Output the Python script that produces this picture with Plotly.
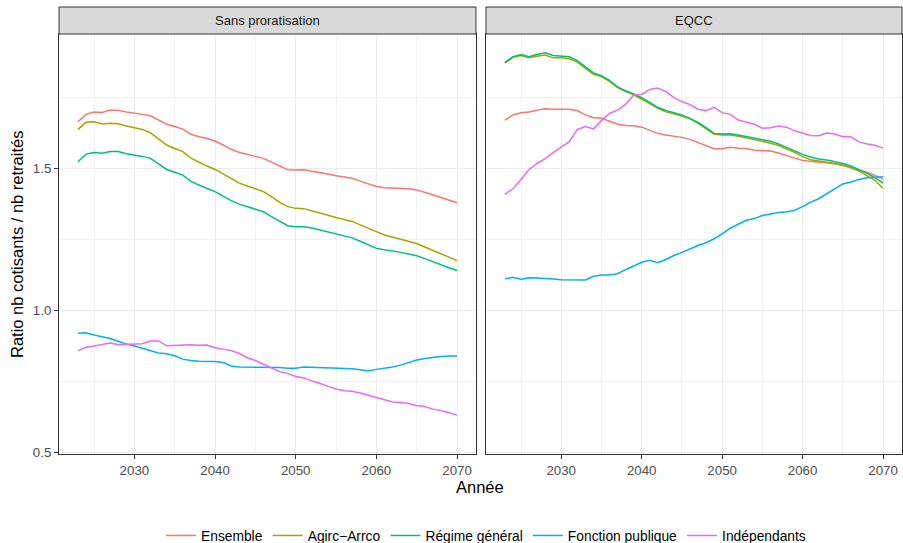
import plotly.graph_objects as go

years = list(range(2023, 2071))

series_names = ["Ensemble", "Agirc\u2212Arrco", "Régime général", "Fonction publique", "Indépendants"]
colors = ["#F8766D", "#A3A500", "#00BF7D", "#00B0F6", "#E76BF3"]

# Panel 1 : Sans proratisation
sp_ensemble = [1.663, 1.689, 1.697, 1.696, 1.704, 1.703, 1.697, 1.694, 1.689, 1.684,
               1.669, 1.654, 1.646, 1.637, 1.619, 1.610, 1.604, 1.595, 1.581, 1.566,
               1.555, 1.547, 1.541, 1.534, 1.520, 1.506, 1.494, 1.493, 1.494, 1.489,
               1.485, 1.479, 1.473, 1.468, 1.464, 1.454, 1.445, 1.435, 1.431, 1.430,
               1.428, 1.427, 1.423, 1.415, 1.406, 1.396, 1.387, 1.378]
sp_agirc = [1.636, 1.661, 1.663, 1.655, 1.658, 1.656, 1.648, 1.643, 1.636, 1.624,
            1.604, 1.581, 1.569, 1.558, 1.535, 1.520, 1.507, 1.495, 1.479, 1.461,
            1.447, 1.437, 1.428, 1.417, 1.399, 1.379, 1.364, 1.358, 1.357, 1.350,
            1.343, 1.334, 1.326, 1.319, 1.312, 1.300, 1.289, 1.276, 1.264, 1.257,
            1.250, 1.243, 1.234, 1.222, 1.210, 1.197, 1.185, 1.174]
sp_rg = [1.522, 1.549, 1.555, 1.552, 1.558, 1.558, 1.550, 1.546, 1.541, 1.534,
         1.514, 1.495, 1.485, 1.475, 1.453, 1.440, 1.428, 1.417, 1.401, 1.385,
         1.373, 1.364, 1.356, 1.346, 1.329, 1.312, 1.297, 1.293, 1.293, 1.289,
         1.282, 1.273, 1.268, 1.261, 1.254, 1.242, 1.229, 1.217, 1.212, 1.208,
         1.203, 1.197, 1.191, 1.181, 1.170, 1.158, 1.149, 1.139]
sp_fp = [0.918, 0.920, 0.912, 0.907, 0.900, 0.890, 0.880, 0.873, 0.865, 0.858,
         0.849, 0.846, 0.839, 0.827, 0.822, 0.820, 0.819, 0.819, 0.815, 0.803,
         0.799, 0.799, 0.799, 0.800, 0.800, 0.798, 0.795, 0.795, 0.799, 0.798,
         0.797, 0.797, 0.797, 0.795, 0.793, 0.790, 0.785, 0.791, 0.795, 0.799,
         0.806, 0.815, 0.824, 0.829, 0.833, 0.836, 0.838, 0.838]
sp_indep = [0.856, 0.869, 0.873, 0.878, 0.884, 0.878, 0.879, 0.881, 0.881, 0.891,
            0.891, 0.874, 0.876, 0.877, 0.878, 0.876, 0.877, 0.867, 0.861, 0.857,
            0.847, 0.832, 0.822, 0.810, 0.796, 0.783, 0.777, 0.766, 0.761, 0.750,
            0.742, 0.731, 0.722, 0.716, 0.714, 0.708, 0.700, 0.691, 0.684, 0.676,
            0.674, 0.671, 0.664, 0.660, 0.651, 0.646, 0.638, 0.630]

# Panel 2 : EQCC
eq_ensemble = [1.669, 1.687, 1.695, 1.697, 1.704, 1.709, 1.707, 1.707, 1.707, 1.702,
               1.687, 1.677, 1.675, 1.665, 1.654, 1.650, 1.649, 1.644, 1.634, 1.622,
               1.616, 1.613, 1.608, 1.601, 1.590, 1.577, 1.568, 1.568, 1.573, 1.570,
               1.569, 1.563, 1.562, 1.560, 1.553, 1.543, 1.535, 1.527, 1.523, 1.520,
               1.519, 1.514, 1.511, 1.501, 1.493, 1.485, 1.474, 1.462]
eq_agirc = [1.869, 1.890, 1.896, 1.888, 1.894, 1.898, 1.888, 1.888, 1.885, 1.873,
            1.851, 1.830, 1.822, 1.805, 1.783, 1.769, 1.758, 1.743, 1.727, 1.710,
            1.698, 1.691, 1.683, 1.673, 1.657, 1.637, 1.619, 1.616, 1.616, 1.612,
            1.607, 1.600, 1.594, 1.588, 1.580, 1.567, 1.555, 1.540, 1.529, 1.525,
            1.521, 1.516, 1.509, 1.501, 1.489, 1.474, 1.457, 1.428]
eq_rg = [1.872, 1.892, 1.900, 1.892, 1.900, 1.906, 1.896, 1.894, 1.892, 1.878,
         1.857, 1.835, 1.825, 1.809, 1.786, 1.772, 1.761, 1.748, 1.731, 1.714,
         1.703, 1.695, 1.687, 1.675, 1.661, 1.642, 1.622, 1.620, 1.621, 1.616,
         1.610, 1.604, 1.600, 1.594, 1.585, 1.572, 1.561, 1.548, 1.539, 1.532,
         1.528, 1.523, 1.516, 1.507, 1.495, 1.481, 1.466, 1.447]
eq_fp = [1.110, 1.115, 1.108, 1.114, 1.113, 1.112, 1.109, 1.107, 1.106, 1.107,
         1.106, 1.119, 1.123, 1.123, 1.128, 1.142, 1.155, 1.168, 1.175, 1.167,
         1.178, 1.192, 1.203, 1.216, 1.227, 1.237, 1.251, 1.268, 1.288, 1.302,
         1.316, 1.322, 1.333, 1.338, 1.343, 1.345, 1.351, 1.364, 1.380, 1.392,
         1.410, 1.427, 1.444, 1.451, 1.460, 1.466, 1.468, 1.469]
eq_indep = [1.407, 1.427, 1.460, 1.495, 1.516, 1.533, 1.554, 1.575, 1.593, 1.636,
            1.646, 1.638, 1.667, 1.692, 1.704, 1.724, 1.757, 1.759, 1.777, 1.782,
            1.770, 1.748, 1.734, 1.724, 1.707, 1.702, 1.714, 1.695, 1.689, 1.669,
            1.661, 1.654, 1.640, 1.642, 1.648, 1.644, 1.631, 1.622, 1.615, 1.614,
            1.623, 1.620, 1.610, 1.610, 1.592, 1.585, 1.580, 1.570]

panel_titles = ["Sans proratisation", "EQCC"]
panels = [
    [sp_ensemble, sp_agirc, sp_rg, sp_fp, sp_indep],
    [eq_ensemble, eq_agirc, eq_rg, eq_fp, eq_indep],
]

W, H = 903, 543
def px_x(p):
    return p / W
def px_y(p):
    return 1 - p / H

x_domains = [[px_x(59), px_x(476)], [px_x(486), px_x(902)]]
y_domain = [px_y(454), px_y(34)]

fig = go.Figure()
for pi, data in enumerate(panels):
    xa = "x" if pi == 0 else "x2"
    ya = "y" if pi == 0 else "y2"
    for si, vals in enumerate(data):
        fig.add_trace(go.Scatter(
            x=years, y=vals, mode="lines", name=series_names[si],
            line=dict(color=colors[si], width=1.5),
            xaxis=xa, yaxis=ya, showlegend=(pi == 0), legendgroup=series_names[si],
        ))

font_family = "Liberation Sans, Arial, sans-serif"
axis_common = dict(
    showline=True, mirror=True, linecolor="#333333", linewidth=1,
    ticks="outside", ticklen=4, tickcolor="#333333", tickwidth=1,
    showgrid=True, gridcolor="#EBEBEB", gridwidth=1.1,
    zeroline=False, automargin=False,
    tickfont=dict(family=font_family, size=13.3, color="#4D4D4D"),
)
xaxis_common = dict(axis_common, range=[2020.65, 2072.35], tick0=2030, dtick=10,
                    minor=dict(tick0=2025, dtick=5, showgrid=True, gridcolor="#F2F2F2", gridwidth=0.6))
yaxis_common = dict(axis_common, range=[0.493, 1.972], tick0=0.5, dtick=0.5, tickformat=".1f",
                    minor=dict(tick0=0.75, dtick=0.25, showgrid=True, gridcolor="#F2F2F2", gridwidth=0.6))

fig.update_layout(
    template="none",
    width=W, height=H,
    margin=dict(l=0, r=0, t=0, b=0, autoexpand=False),
    paper_bgcolor="white", plot_bgcolor="white",
    font=dict(family=font_family, color="black"),
    xaxis=dict(xaxis_common, domain=x_domains[0], anchor="y"),
    xaxis2=dict(xaxis_common, domain=x_domains[1], anchor="y2"),
    yaxis=dict(yaxis_common, domain=y_domain, anchor="x"),
    yaxis2=dict(yaxis_common, domain=y_domain, anchor="x2", matches="y", showticklabels=False, ticks=""),
    legend=dict(orientation="h", x=px_x(486), xanchor="center", y=px_y(535.5), yanchor="middle",
                font=dict(family=font_family, size=13.8, color="black"), bgcolor="rgba(0,0,0,0)",
                itemwidth=30, tracegroupgap=0),
    showlegend=True,
)

# strips
for pi, title in enumerate(panel_titles):
    x0, x1 = x_domains[pi]
    fig.add_shape(type="rect", xref="paper", yref="paper", x0=x0, x1=x1,
                  y0=px_y(34), y1=px_y(7), fillcolor="#D9D9D9",
                  line=dict(color="#333333", width=1), layer="above")
    fig.add_annotation(xref="paper", yref="paper", x=(x0 + x1) / 2, y=px_y(20.5),
                       text=title, showarrow=False, xanchor="center", yanchor="middle",
                       font=dict(family=font_family, size=13, color="#1A1A1A"))

# axis titles
fig.add_annotation(xref="paper", yref="paper", x=px_x(480), y=px_y(487), text="Année",
                   showarrow=False, xanchor="center", yanchor="middle",
                   font=dict(family=font_family, size=16.5, color="black"))
fig.add_annotation(xref="paper", yref="paper", x=px_x(17), y=px_y(245),
                   text="Ratio nb cotisants / nb retraités", textangle=-90,
                   showarrow=False, xanchor="center", yanchor="middle",
                   font=dict(family=font_family, size=16.5, color="black"))

fig.write_html(
    "out.html",
    config={"displayModeBar": False},
    post_script="document.body.style.margin='0';document.body.style.overflow='hidden';",
)
